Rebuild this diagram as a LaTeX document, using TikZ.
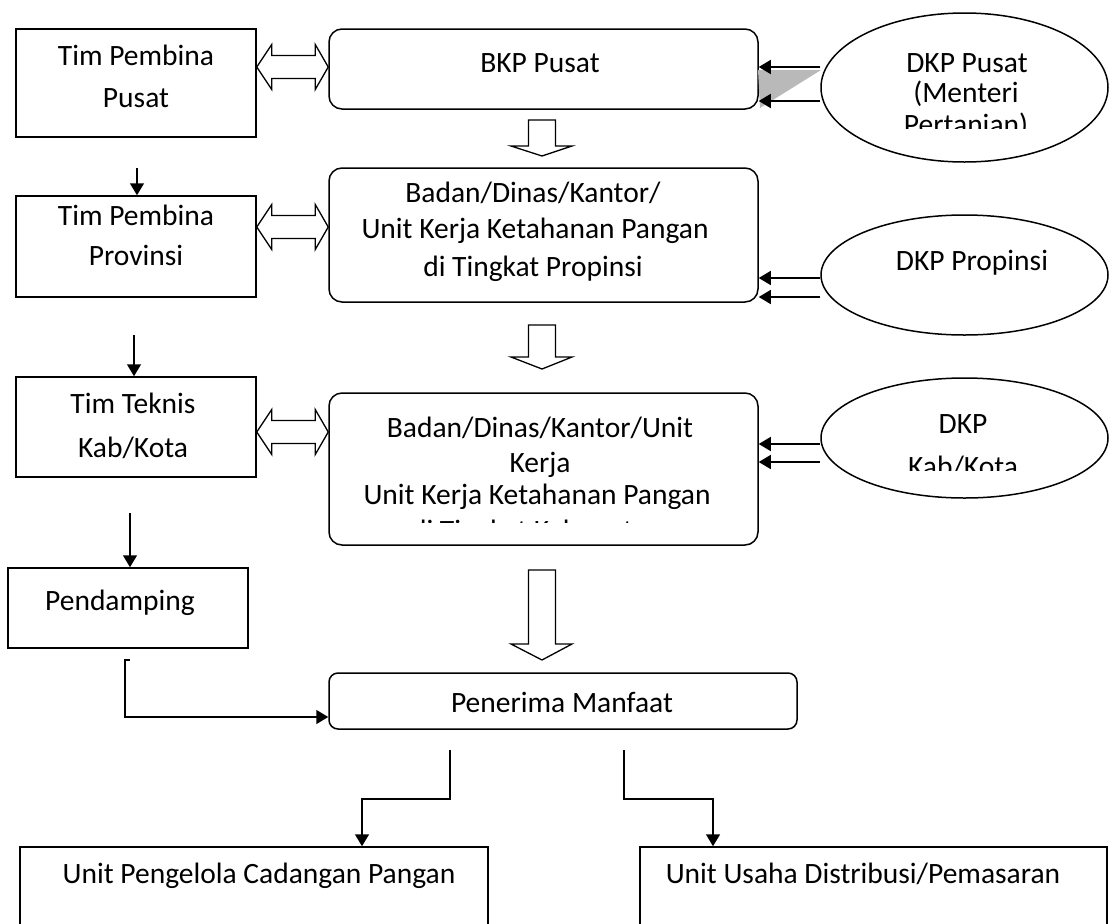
\documentclass[tikz,border=0pt]{standalone}
\usepackage{fontspec}
\setmainfont{Carlito}
\usetikzlibrary{shapes.geometric,arrows.meta,calc}
\newcommand{\DblA}[3]{%
  \draw[blk] (#1.east |- #3) -- ++(15,-22.5) -- ++(0,11)
    -- ($(#2.west |- #3)+(-13,-11.5)$) -- ++(0,-11) -- (#2.west |- #3)
    -- ++(-13,22.5) -- ++(0,-11) -- ($(#1.east |- #3)+(15,11.5)$)
    -- ++(0,11) -- cycle;}
\newcommand{\BlkA}[4]{%
  \draw[blk] (#1-13.5,#2) -- (#1+13.5,#2) -- (#1+13.5,#3) -- (#1+30,#3)
    -- (#1,#4) -- (#1-31,#3) -- (#1-13.5,#3) -- cycle;}
\begin{document}
\begin{tikzpicture}[x=1pt,y=-1pt,
  lw/.style={line width=1.5pt},
  sbox/.style={draw,lw,rectangle,inner sep=0pt},
  rbox/.style={draw,lw,rectangle,rounded corners=13pt,inner sep=0pt},
  ell/.style={draw,lw,ellipse,inner sep=0pt},
  txt/.style={font=\fontsize{29.5}{34}\selectfont,anchor=base,inner sep=0pt},
  arr/.style={lw,-{Triangle[length=12pt,width=14pt]}},
  blk/.style={draw,line width=1.3pt,fill=white,line join=miter},
]
\clip (0,0) rectangle (1109,924);
\fill[white] (0,0) rectangle (1109,924);

% boxes
\node[sbox,minimum width=240pt,minimum height=108pt] (timpusat) at (136,83) {};
\node[sbox,minimum width=240pt,minimum height=101pt] (timprov) at (136,246.5) {};
\node[sbox,minimum width=240pt,minimum height=100pt] (timteknis) at (136,427) {};
\node[sbox,minimum width=240pt,minimum height=80pt] (pendamping) at (128,608) {};
\node[rbox,minimum width=429pt,minimum height=80pt] (bkp) at (543.5,69) {};
\node[rbox,minimum width=429pt,minimum height=134pt] (badanprov) at (543.5,235) {};
\node[rbox,minimum width=429pt,minimum height=152pt] (badankab) at (543.5,469) {};
\node[rbox,rounded corners=9pt,minimum width=468pt,minimum height=56pt] (penerima) at (563,701) {};
\node[ell,minimum width=287pt,minimum height=149pt] (dkppusat) at (964.5,87.5) {};
\node[ell,minimum width=287pt,minimum height=120pt] (dkpprov) at (964.5,275) {};
\node[ell,minimum width=287pt,minimum height=120pt] (dkpkab) at (964.5,438) {};
\node[sbox,minimum width=468pt,minimum height=120pt] (upc) at (254,907) {};
\node[sbox,minimum width=467pt,minimum height=120pt] (uud) at (873.5,907) {};

% texts
\node[txt] (t1a) at (136,65) {Tim Pembina};
\node[txt] (t1b) at (136,107) {Pusat};
\node[txt] (t2a) at (136,225) {Tim Pembina};
\node[txt] (t2b) at (136,265) {Provinsi};
\node[txt] (t3a) at (133,413) {Tim Teknis};
\node[txt] (t3b) at (133,457) {Kab/Kota};
\node[txt] (t4) at (120,610) {Pendamping};
\node[txt] (tbkp) at (540,72) {BKP Pusat};
\begin{scope}
  \clip (330,170) rectangle (757,281);
  \node[txt] (tp1) at (533,202) {Badan/Dinas/Kantor/};
  \node[txt] (tp2) at (535,238) {Unit Kerja Ketahanan Pangan};
  \node[txt] (tp3) at (533,276) {di Tingkat Propinsi};
\end{scope}
\begin{scope}
  \clip (330,395) rectangle (757,522);
  \node[txt] (tk1) at (540,437) {Badan/Dinas/Kantor/Unit};
  \node[txt] (tk2) at (540,472) {Kerja};
  \node[txt] (tk3) at (537,504) {Unit Kerja Ketahanan Pangan};
  \node[txt] (tk4) at (537,540) {di Tingkat Kabupaten};
\end{scope}
\begin{scope}
  \clip (822,14) rectangle (1108,128);
  \node[txt] (td1) at (967,72) {DKP Pusat};
  \node[txt] (td2) at (966,102) {(Menteri};
  \node[txt] (td3) at (966,134) {Pertanian)};
\end{scope}
\node[txt] (tdp) at (972,270) {DKP Propinsi};
\begin{scope}
  \clip (822,379) rectangle (1108,470);
  \node[txt] (tdk1) at (963,433) {DKP};
  \node[txt] (tdk2) at (963,476) {Kab/Kota};
\end{scope}
\node[txt] (tpm) at (562,712) {Penerima Manfaat};
\node[txt] (tupc) at (259,883) {Unit Pengelola Cadangan Pangan};
\node[txt] (tuud) at (863,883) {Unit Usaha Distribusi/Pemasaran};

% double arrows
\coordinate (c1) at (0,67);
\coordinate (c2) at (0,227);
\coordinate (c3) at (0,432);
\DblA{timpusat}{bkp}{c1}
\DblA{timprov}{badanprov}{c2}
\DblA{timteknis}{badankab}{c3}

% block arrows
\BlkA{542}{120}{146}{156}
\BlkA{542}{325}{357}{369}
\BlkA{542}{570}{644}{660}

% small arrows on the left
\coordinate (a1) at (137,168);
\coordinate (a2) at (134,335);
\coordinate (a3) at (130,513);
\draw[arr] (a1) -- (a1 |- timprov.north);
\draw[arr] (a2) -- (a2 |- timteknis.north);
\draw[arr] (a3) -- (a3 |- pendamping.north);

% pendamping -> penerima
\coordinate (pd) at (125,660);
\coordinate (pe) at (0,717);
\draw[arr] ($(pd)+(5,0)$) -- (pd) |- (penerima.west |- pe);

% DKP arrows
\fill[gray!55] (758,70) -- (821,70) -- (760,108) -- cycle;
\coordinate (d1) at (0,67);
\coordinate (d2) at (0,101);
\coordinate (d3) at (0,278);
\coordinate (d4) at (0,297);
\coordinate (d5) at (0,444);
\coordinate (d6) at (0,462);
\draw[arr] (dkppusat.west |- d1) -- (bkp.east |- d1);
\draw[arr] (dkppusat.west |- d2) -- (bkp.east |- d2);
\draw[arr] (dkpprov.west |- d3) -- (badanprov.east |- d3);
\draw[arr] (dkpprov.west |- d4) -- (badanprov.east |- d4);
\draw[arr] (dkpkab.west |- d5) -- (badankab.east |- d5);
\draw[arr] (dkpkab.west |- d6) -- (badankab.east |- d6);

% penerima -> units
\coordinate (b1) at (450,750);
\coordinate (b2) at (624,750);
\coordinate (bm) at (0,799);
\coordinate (e1) at (362,0);
\coordinate (e2) at (713,0);
\draw[arr] (b1) -- (b1 |- bm) -- (e1 |- bm) -- (e1 |- upc.north);
\draw[arr] (b2) -- (b2 |- bm) -- (e2 |- bm) -- (e2 |- uud.north);
\end{tikzpicture}
\end{document}
